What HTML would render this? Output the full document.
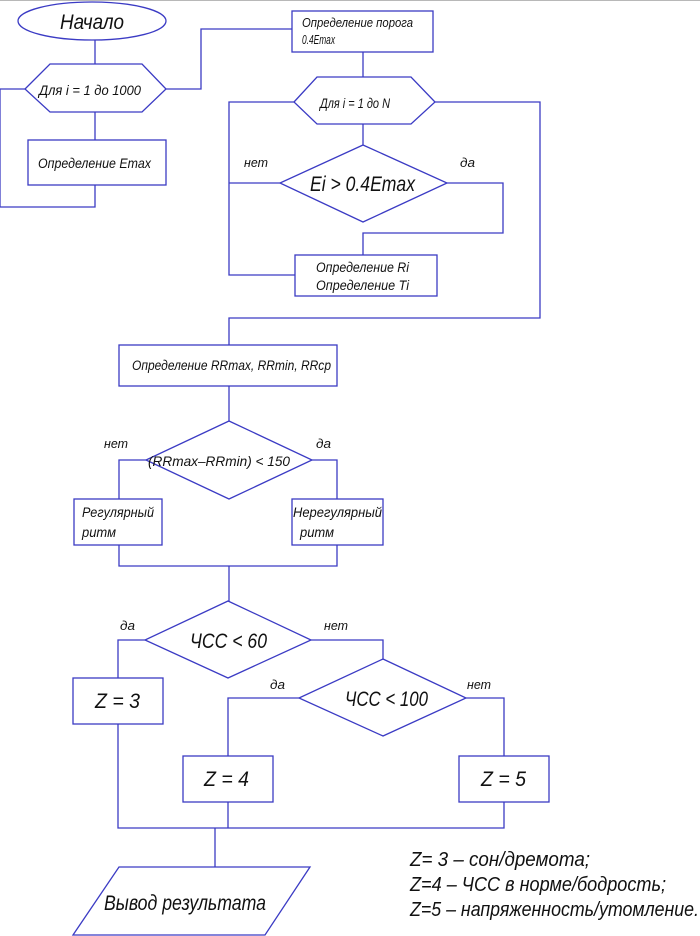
<!DOCTYPE html>
<html><head><meta charset="utf-8"><style>
html,body{margin:0;padding:0;background:#fff;width:700px;height:936px;overflow:hidden}
svg{display:block}
text{font-family:"Liberation Sans",sans-serif;font-style:italic;fill:#111}
</style></head><body>
<svg width="700" height="936" viewBox="0 0 700 936" xmlns="http://www.w3.org/2000/svg">
<rect x="0" y="0" width="700" height="1" fill="#b8b8b8"/>
<g fill="none" stroke="#3b3bc4" stroke-width="1.3">
<ellipse cx="92" cy="21" rx="74" ry="19"/>
<line x1="95" y1="40" x2="95" y2="64"/>
<polygon points="25,89 50,64 142,64 166,89 142,112 50,112"/>
<line x1="95" y1="112" x2="95" y2="140"/>
<rect x="28" y="140" width="138" height="45"/>
<polyline points="25,89 0,89 0,207 95,207 95,185"/>
<polyline points="166,89 201,89 201,29 292,29"/>
<rect x="292" y="11" width="141" height="41"/>
<line x1="363" y1="52" x2="363" y2="77"/>
<polygon points="294,102 317,77 411,77 435,102 411,124 317,124"/>
<polyline points="294,102 229,102 229,275 295,275"/>
<polyline points="435,102 540,102 540,318 229,318 229,345"/>
<line x1="363" y1="124" x2="363" y2="145"/>
<polygon points="363,145 447,183 363,222 280,183"/>
<line x1="229" y1="183" x2="280" y2="183"/>
<polyline points="447,183 503,183 503,233 363,233 363,255"/>
<rect x="295" y="255" width="142" height="41"/>
<rect x="119" y="345" width="218" height="41"/>
<line x1="229" y1="386" x2="229" y2="421"/>
<polygon points="229,421 312,460 229,499 146,460"/>
<polyline points="146,460 119,460 119,499"/>
<polyline points="312,460 337,460 337,499"/>
<rect x="74" y="499" width="88" height="46"/>
<rect x="292" y="499" width="91" height="46"/>
<polyline points="119,545 119,566 337,566 337,545"/>
<line x1="229" y1="566" x2="229" y2="601"/>
<polygon points="228,601 311,640 228,678 145,640"/>
<polyline points="145,640 118,640 118,678"/>
<polyline points="311,640 383,640 383,659"/>
<rect x="73" y="678" width="90" height="46"/>
<polygon points="383,659 466,698 383,736 299,698"/>
<polyline points="299,698 228,698 228,756"/>
<polyline points="466,698 504,698 504,756"/>
<rect x="183" y="756" width="90" height="46"/>
<rect x="459" y="756" width="90" height="46"/>
<polyline points="118,724 118,828 504,828 504,802"/>
<line x1="228" y1="802" x2="228" y2="828"/>
<line x1="215" y1="828" x2="215" y2="867"/>
<polygon points="119,867 310,867 265,935 73,935"/>
</g>
<text x="60" y="29" font-size="21" textLength="64" lengthAdjust="spacingAndGlyphs">Начало</text>
<text x="39" y="95" font-size="14" textLength="102" lengthAdjust="spacingAndGlyphs">Для i = 1 до 1000</text>
<text x="38" y="168" font-size="14" textLength="113" lengthAdjust="spacingAndGlyphs">Определение Emax</text>
<text x="302" y="27" font-size="13" textLength="111" lengthAdjust="spacingAndGlyphs">Определение порога</text>
<text x="302" y="44" font-size="13" textLength="33" lengthAdjust="spacingAndGlyphs">0.4Emax</text>
<text x="320" y="108" font-size="14" textLength="70" lengthAdjust="spacingAndGlyphs">Для i = 1 до N</text>
<text x="310" y="191" font-size="21" textLength="105" lengthAdjust="spacingAndGlyphs">Ei &gt; 0.4Emax</text>
<text x="244" y="167" font-size="13" textLength="24" lengthAdjust="spacingAndGlyphs">нет</text>
<text x="460" y="167" font-size="13" textLength="15" lengthAdjust="spacingAndGlyphs">да</text>
<text x="316" y="272" font-size="14" textLength="93" lengthAdjust="spacingAndGlyphs">Определение Ri</text>
<text x="316" y="290" font-size="14" textLength="93" lengthAdjust="spacingAndGlyphs">Определение Ti</text>
<text x="132" y="370" font-size="14" textLength="199" lengthAdjust="spacingAndGlyphs">Определение RRmax, RRmin, RRcp</text>
<text x="104" y="448" font-size="13" textLength="24" lengthAdjust="spacingAndGlyphs">нет</text>
<text x="316" y="448" font-size="13" textLength="15" lengthAdjust="spacingAndGlyphs">да</text>
<text x="148" y="466" font-size="14" textLength="142" lengthAdjust="spacingAndGlyphs">(RRmax–RRmin) &lt; 150</text>
<text x="82" y="517" font-size="14" textLength="72" lengthAdjust="spacingAndGlyphs">Регулярный</text>
<text x="82" y="537" font-size="14" textLength="34" lengthAdjust="spacingAndGlyphs">ритм</text>
<text x="293" y="517" font-size="14" textLength="89" lengthAdjust="spacingAndGlyphs">Нерегулярный</text>
<text x="300" y="537" font-size="14" textLength="34" lengthAdjust="spacingAndGlyphs">ритм</text>
<text x="120" y="630" font-size="13" textLength="15" lengthAdjust="spacingAndGlyphs">да</text>
<text x="324" y="630" font-size="13" textLength="24" lengthAdjust="spacingAndGlyphs">нет</text>
<text x="190" y="648" font-size="21" textLength="77" lengthAdjust="spacingAndGlyphs">ЧСС &lt; 60</text>
<text x="95" y="708" font-size="21" textLength="45" lengthAdjust="spacingAndGlyphs">Z = 3</text>
<text x="270" y="689" font-size="13" textLength="15" lengthAdjust="spacingAndGlyphs">да</text>
<text x="467" y="689" font-size="13" textLength="24" lengthAdjust="spacingAndGlyphs">нет</text>
<text x="345" y="706" font-size="21" textLength="83" lengthAdjust="spacingAndGlyphs">ЧСС &lt; 100</text>
<text x="204" y="786" font-size="21" textLength="45" lengthAdjust="spacingAndGlyphs">Z = 4</text>
<text x="481" y="786" font-size="21" textLength="45" lengthAdjust="spacingAndGlyphs">Z = 5</text>
<text x="104" y="910" font-size="21" textLength="162" lengthAdjust="spacingAndGlyphs">Вывод результата</text>
<text x="410" y="866" font-size="20" textLength="180" lengthAdjust="spacingAndGlyphs">Z= 3 – сон/дремота;</text>
<text x="410" y="891" font-size="20" textLength="256" lengthAdjust="spacingAndGlyphs">Z=4 – ЧСС в норме/бодрость;</text>
<text x="410" y="916" font-size="20" textLength="289" lengthAdjust="spacingAndGlyphs">Z=5 – напряженность/утомление.</text>
</svg>
</body></html>
